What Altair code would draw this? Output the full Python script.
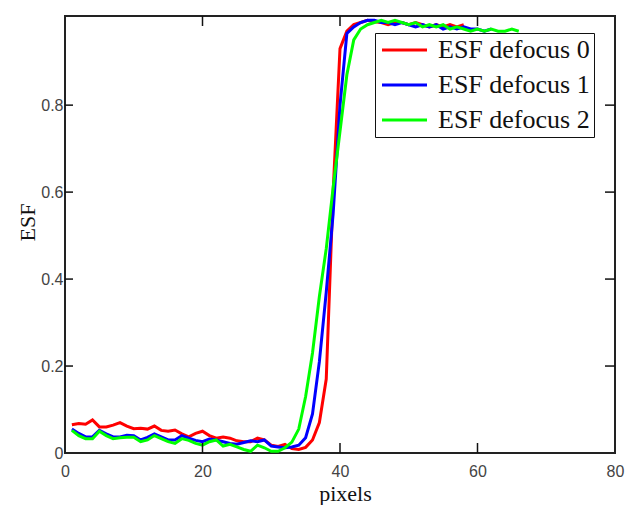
import altair as alt
import pandas as pd

series_names = ["ESF defocus 0", "ESF defocus 1", "ESF defocus 2"]
series_colors = ["#ff0000", "#0000ff", "#00ff00"]

red_vals = [0.065, 0.068, 0.066, 0.076, 0.060, 0.060, 0.064, 0.070, 0.062, 0.056,
            0.057, 0.055, 0.062, 0.052, 0.050, 0.053, 0.044, 0.037, 0.045, 0.050,
            0.040, 0.034, 0.037, 0.034, 0.028, 0.026, 0.026, 0.034, 0.030, 0.018,
            0.015, 0.020, 0.010, 0.008, 0.013, 0.030, 0.070, 0.17, 0.60, 0.93,
            0.97, 0.985, 0.99, 0.995, 0.992, 0.99, 0.985, 0.99, 0.99, 0.985,
            0.99, 0.985, 0.98, 0.985, 0.98, 0.985, 0.98, 0.985]
blue_vals = [0.055, 0.045, 0.037, 0.037, 0.052, 0.044, 0.037, 0.037, 0.041, 0.040,
             0.030, 0.036, 0.044, 0.037, 0.030, 0.030, 0.040, 0.034, 0.029, 0.026,
             0.032, 0.030, 0.026, 0.022, 0.020, 0.024, 0.028, 0.026, 0.030, 0.016,
             0.014, 0.012, 0.014, 0.018, 0.035, 0.09, 0.21, 0.37, 0.55, 0.80,
             0.965, 0.98, 0.99, 0.995, 0.995, 0.99, 0.99, 0.985, 0.99, 0.985,
             0.98, 0.985, 0.98, 0.985, 0.975, 0.98, 0.975, 0.98, 0.975, 0.975,
             0.97, 0.975]
green_vals = [0.052, 0.040, 0.033, 0.033, 0.050, 0.040, 0.033, 0.035, 0.036, 0.036,
              0.026, 0.030, 0.040, 0.033, 0.026, 0.022, 0.033, 0.029, 0.022, 0.018,
              0.026, 0.030, 0.016, 0.020, 0.014, 0.008, 0.004, 0.018, 0.012, 0.004,
              0.004, 0.012, 0.025, 0.055, 0.13, 0.23, 0.36, 0.47, 0.61, 0.74,
              0.87, 0.95, 0.975, 0.985, 0.99, 0.995, 0.99, 0.995, 0.99, 0.985,
              0.99, 0.98, 0.985, 0.98, 0.985, 0.975, 0.98, 0.975, 0.97, 0.975,
              0.97, 0.975, 0.97, 0.97, 0.975, 0.97]

x_ticks = [0, 20, 40, 60, 80]
y_ticks = [0, 0.2, 0.4, 0.6, 0.8]
x_inner_ticks = [20, 40, 60]
y_inner_ticks = [0.2, 0.4, 0.6, 0.8]

rows = []
for k, (name, vals) in enumerate(zip(series_names, [red_vals, blue_vals, green_vals])):
    for i, v in enumerate(vals):
        rows.append({"pixels": i + 1, "ESF": v, "series": name, "order": k})
df = pd.DataFrame(rows)

W, H = 550, 437
TS = 10
xscale = alt.Scale(domain=[0, 80], nice=False, zero=False)
yscale = alt.Scale(domain=[0, 1.005], nice=False, zero=False)

x_axis = alt.Axis(orient="bottom", values=x_ticks, ticks=False, domain=False, grid=False,
                  labelFont="Liberation Sans", labelFontSize=16, labelColor="#444",
                  labelPadding=10, labelFlush=False,
                  title="pixels", titleFont="Liberation Serif", titleFontSize=22,
                  titleFontWeight="normal", titleColor="#111",
                  titleX=280, titleY=40, titleBaseline="middle", titleAlign="center")
y_axis = alt.Axis(orient="left", values=y_ticks, ticks=False, domain=False, grid=False,
                  labelFont="Liberation Sans", labelFontSize=16, labelColor="#444",
                  labelPadding=2, labelFlush=False,
                  labelExpr="datum.value == 0 ? '0' : format(datum.value, '.1f')",
                  title="ESF", titleFont="Liberation Serif", titleFontSize=22,
                  titleFontWeight="normal", titleColor="#111", titleAngle=270,
                  titleX=-38, titleY=206, titleBaseline="middle", titleAlign="center")

lines = alt.Chart(df).mark_line(strokeWidth=3).encode(
    x=alt.X("pixels:Q", scale=xscale, axis=x_axis),
    y=alt.Y("ESF:Q", scale=yscale, axis=y_axis),
    color=alt.Color("series:N",
                    scale=alt.Scale(domain=series_names, range=series_colors),
                    legend=alt.Legend(title=None, orient="none", legendX=310, legendY=17,
                                      strokeColor="#111", fillColor="white", padding=4,
                                      symbolType="M-1,0H3.5", symbolStrokeWidth=3, symbolSize=400,
                                      labelFont="Liberation Serif", labelFontSize=26,
                                      labelColor="#111", labelOffset=33, rowPadding=9)),
    order=alt.Order("order:Q"),
    detail="series:N",
)

xt = pd.DataFrame({"pixels": x_inner_ticks})
yt = pd.DataFrame({"ESF": y_inner_ticks})
tick_style = dict(color="#111", strokeWidth=1.5)

bottom_ticks = alt.Chart(xt).mark_rule(**tick_style).encode(
    x=alt.X("pixels:Q", scale=xscale, axis=x_axis), y=alt.value(H - TS), y2=alt.value(H))
top_ticks = alt.Chart(xt).mark_rule(**tick_style).encode(
    x=alt.X("pixels:Q", scale=xscale, axis=x_axis), y=alt.value(0), y2=alt.value(TS))
left_ticks = alt.Chart(yt).mark_rule(**tick_style).encode(
    y=alt.Y("ESF:Q", scale=yscale, axis=y_axis), x=alt.value(0), x2=alt.value(8))
right_ticks = alt.Chart(yt).mark_rule(**tick_style).encode(
    y=alt.Y("ESF:Q", scale=yscale, axis=y_axis), x=alt.value(W - TS), x2=alt.value(W))

chart = alt.layer(lines, bottom_ticks, top_ticks, left_ticks, right_ticks).properties(
    width=W, height=H,
    autosize=alt.AutoSizeParams(type="none"),
    padding={"left": 57, "top": 8, "right": 10, "bottom": 52},
    background="white",
).configure_view(stroke="#222", strokeWidth=2)

chart.save("out.html", embed_options={"renderer": "svg", "actions": False})
